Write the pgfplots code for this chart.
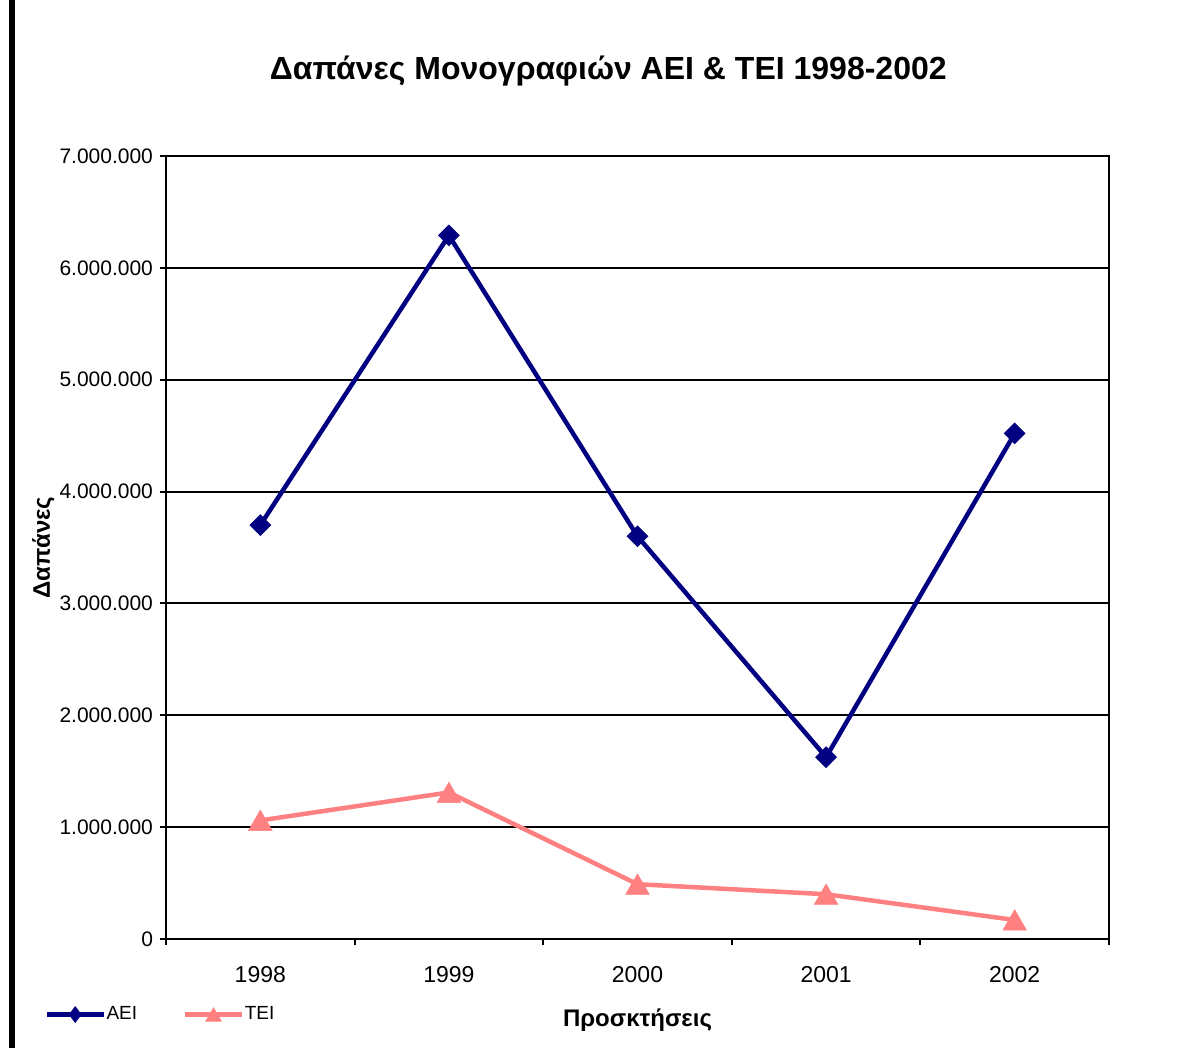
\documentclass[border=0pt]{standalone}
\usepackage{fontspec}
\setmainfont{Liberation Sans}
\usepackage{pgfplots}
\pgfplotsset{compat=1.18}
\definecolor{aeiblue}{HTML}{000080}
\definecolor{teipink}{HTML}{FF8080}

\begin{document}
\begin{tikzpicture}
\useasboundingbox (-83pt,-54.5pt) rectangle (514.5pt,469.5pt);
% black rule along the left edge
\draw[line width=3pt] (-77pt,-54.5pt) -- (-77pt,469.5pt);

\begin{axis}[
    scale only axis,
    width=471.5pt,
    height=391.5pt,
    xmin=0.5, xmax=5.5,
    ymin=0, ymax=7000000,
    xtick={0.5,1.5,2.5,3.5,4.5,5.5},
    xticklabels={1998,1999,2000,2001,2002},
    x tick label as interval,
    ytick={0,1000000,2000000,3000000,4000000,5000000,6000000,7000000},
    scaled y ticks=false,
    /pgf/number format/assume math mode=true,
    yticklabel style={font=\fontsize{10.5}{12}\selectfont,
        /pgf/number format/.cd, fixed, 1000 sep={.}},
    xticklabel style={font=\fontsize{11.5}{13}\selectfont, yshift=-7pt},
    tick align=outside,
    tick pos=left,
    major tick length=3pt,
    every tick/.style={black, line width=1pt},
    axis line style={black, line width=1pt},
    ymajorgrids,
    major grid style={black, line width=1pt},
    title={\textbf{Δαπάνες Μονογραφιών ΑΕΙ \& ΤΕΙ 1998-2002}},
    title style={at={(axis description cs:0.469,1.093)}, anchor=center,
        font=\fontsize{16}{19}\selectfont},
    xlabel={\textbf{Προσκτήσεις}},
    xlabel style={at={(axis description cs:0.5,-0.104)}, anchor=center,
        font=\fontsize{12}{14}\selectfont},
    ylabel={\textbf{Δαπάνες}},
    ylabel style={at={(axis description cs:-0.13,0.5)}, anchor=center,
        font=\fontsize{12}{14}\selectfont},
    legend columns=2,
    legend style={
        at={(axis description cs:-0.1293,-0.0965)},
        anchor=west,
        draw=none, fill=none,
        inner sep=0pt,
        font=\fontsize{9.5}{11}\selectfont,
        nodes={inner sep=0.3pt},
        /tikz/every even column/.append style={column sep=22.5pt},
    },
    legend cell align=left,
    legend image code/.code={
        \draw[#1, mark repeat=2, mark phase=2]
            plot coordinates {(0pt,0pt) (14.25pt,0pt) (28.5pt,0pt)};
    },
]

% AEI
\addplot[
    color=aeiblue,
    line width=2.25pt,
    mark=square*,
    mark size=3.6pt,
    mark options={solid, rotate=45, fill=aeiblue, draw=aeiblue, line width=0.5pt},
    legend image post style={mark=diamond*, mark size=4pt,
        mark options={solid, fill=aeiblue, draw=aeiblue, line width=0.3pt}},
] coordinates {
    (1,3700000) (2,6290000) (3,3600000) (4,1625000) (5,4520000)
};
\addlegendentry{AEI}

% TEI
\addplot[
    color=teipink,
    line width=2.25pt,
    mark=triangle*,
    mark size=6.8pt,
    mark options={solid, fill=teipink, draw=teipink, line width=0.3pt, yshift=-1.7pt},
    legend image post style={mark size=4.5pt,
        mark options={solid, fill=teipink, draw=teipink, line width=0.3pt, yshift=-1.1pt}},
] coordinates {
    (1,1060000) (2,1310000) (3,490000) (4,400000) (5,170000)
};
\addlegendentry{TEI}

\end{axis}
\end{tikzpicture}
\end{document}
